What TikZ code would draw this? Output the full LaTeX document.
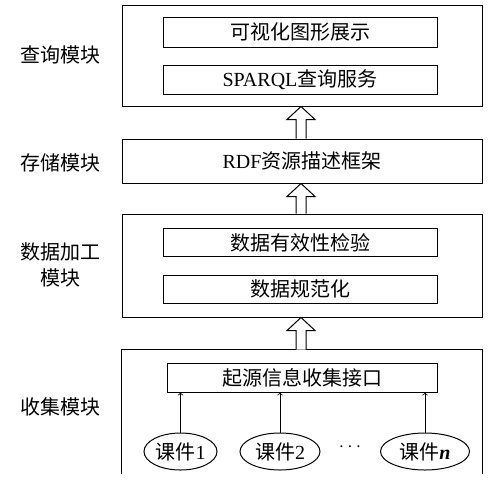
\documentclass[tikz,border=0pt]{standalone}
\usepackage{fontspec}
\setmainfont{Liberation Serif}
\newfontfamily\cjk{Noto Sans CJK SC}
\usetikzlibrary{shapes.geometric,calc}

\tikzset{
  txt/.style={font=\cjk\fontsize{15}{18}\selectfont, inner sep=0},
  modbox/.style={txt, line width=0.75, minimum width=270pt},
  subbox/.style={txt, draw, line width=0.75, minimum width=205.5pt, minimum height=21.75pt},
  course/.style={txt, draw, ellipse, line width=0.75, minimum height=27.75pt},
  bigarr/.style={draw, line width=0.75, fill=white},
}
% hollow block arrow from the lower box #1 up to the upper box #2
\newcommand{\blockup}[2]{%
  \draw[bigarr] ($(#1.north)+(-6,0)$) -- ($(#2.south)+(-6,13)$) -- ($(#2.south)+(-15,13)$)
    -- ($(#2.south)+(-1,0)$) -- ($(#2.south)+(13,13)$) -- ($(#2.south)+(4,13)$)
    -- ($(#1.north)+(4,0)$);}

\begin{document}
\begin{tikzpicture}[x=0.75pt,y=0.75pt,yscale=-1,xscale=1]
\useasboundingbox (0,0) rectangle (491,482);
%Shape: Rectangle [query module]
\node[modbox, draw, minimum height=75.75pt] (query) at (302,55.5) {};
\node[subbox, minimum height=22.5pt] (qvis) at (300,32) {可视化图形展示};
\node[subbox] (qsparql) at (300,79.5) {{\rmfamily SPARQL}查询服务};
%Shape: Rectangle [store module]
\node[modbox, draw, minimum height=33pt] (store) at (302,161) {{\rmfamily RDF}资源描述框架};
%Shape: Rectangle [processing module]
\node[modbox, draw, minimum height=77.25pt] (proc) at (302,265.5) {};
\node[subbox, minimum height=21pt] (pcheck) at (300,242.5) {数据有效性检验};
\node[subbox, minimum height=21pt] (pnorm) at (300,289) {数据规范化};
%Shape: Rectangle [collect module, open at the bottom]
\node[modbox, minimum height=92.25pt] (collect) at (302,411.5) {};
\draw[line width=0.75] (collect.south west) -- (collect.north west) -- (collect.north east) -- (collect.south east);
\node[subbox, minimum width=202.5pt] (iface) at (302,377.5) {起源信息收集接口};
%Shape: Ellipse
\node[course, minimum width=54.75pt] (kj1) at (180.5,451.5) {课件{\rmfamily 1}};
\node[course, minimum width=60pt] (kj2) at (280,451.5) {课件{\rmfamily 2}};
\node[course, minimum width=66.75pt] (kjn) at (425,451.5) {课件{\rmfamily\bfseries\itshape n}};
\node[txt] (dots) at (350,447) {$\cdots$};
%Straight Lines
\draw[->, line width=0.6] (kj1) -- (kj1 |- iface.south);
\draw[->, line width=0.6] (kj2) -- (kj2 |- iface.south);
\draw[->, line width=0.6] (kjn) -- (kjn |- iface.south);
%Block arrows
\blockup{store}{query}
\blockup{proc}{store}
\blockup{collect}{proc}
% Text Node
\node[txt] (lquery) at (60,55) {查询模块};
\node[txt] (lstore) at (60,163) {存储模块};
\node[txt, align=center] (lproc) at (60,265) {数据加工\\[2pt]模块};
\node[txt] (lcollect) at (60,407) {收集模块};
\end{tikzpicture}
\end{document}
